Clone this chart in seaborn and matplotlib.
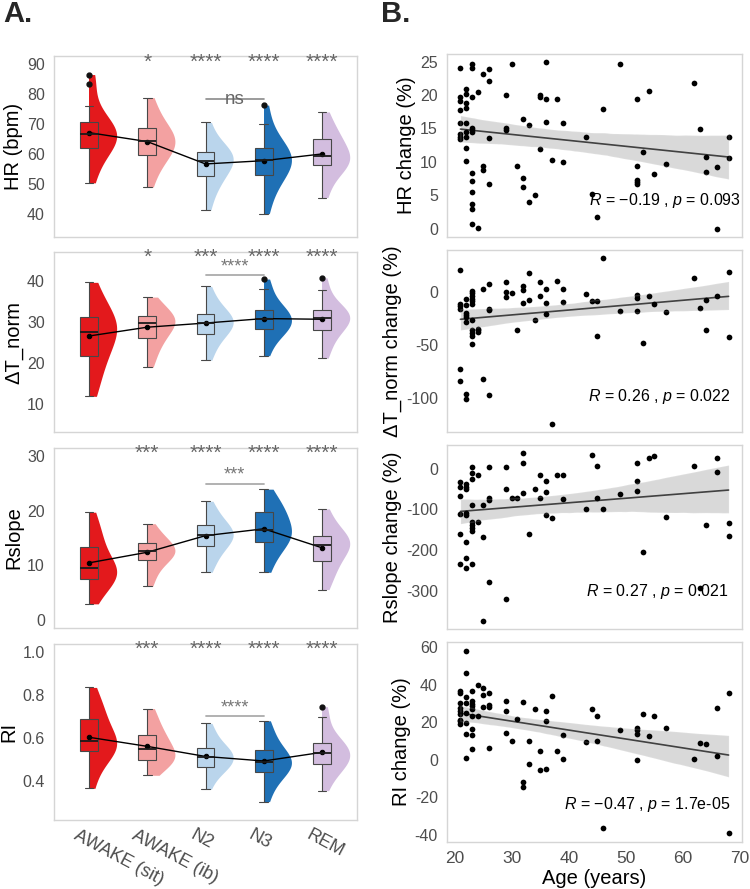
import numpy as np
import pandas as pd
import seaborn as sns
import matplotlib.pyplot as plt
from matplotlib.patches import Rectangle
from matplotlib.transforms import ScaledTranslation

#%% data
stages = ['AWAKE (sit)', 'AWAKE (ib)', 'N2', 'N3', 'REM']
stage_colors = ['#E3191C', '#F3A1A1', '#BAD5EC', '#1F70B5', '#D3BDDF']

hr_vals = {
    'AWAKE (sit)': [50.3, 55.0, 58.5, 61.0, 62.1, 63.5, 64.8, 65.8, 66.5, 67.2, 68.0, 68.8, 70.5, 72.5, 76.0, 83.5, 86.5],
    'AWAKE (ib)': [48.9, 53.5, 56.5, 58.3, 59.5, 61.0, 62.3, 63.4, 64.3, 65.0, 65.8, 66.8, 68.5, 70.0, 72.0, 75.0, 78.8],
    'N2': [41.1, 46.0, 49.0, 51.0, 52.5, 54.0, 55.5, 56.8, 57.5, 58.3, 59.2, 60.0, 60.6, 61.5, 63.0, 66.0, 70.5],
    'N3': [40.0, 45.5, 49.0, 51.5, 52.8, 54.5, 56.0, 57.0, 58.0, 58.8, 59.6, 60.6, 62.0, 63.5, 66.0, 70.0, 76.3],
    'REM': [45.4, 50.0, 53.0, 55.0, 56.1, 56.9, 57.6, 58.4, 59.2, 60.2, 61.5, 63.2, 64.9, 66.0, 67.5, 70.5, 74.0],
}
dt_vals = {
    'AWAKE (sit)': [11.8, 15.0, 18.0, 20.3, 21.7, 23.5, 25.2, 26.6, 27.6, 28.3, 29.0, 30.0, 31.1, 32.5, 34.0, 36.5, 39.6],
    'AWAKE (ib)': [18.9, 21.5, 23.5, 25.0, 26.0, 27.0, 28.0, 29.0, 29.7, 30.0, 30.4, 30.9, 31.4, 32.2, 33.2, 34.5, 36.0],
    'N2': [20.6, 23.0, 25.0, 26.3, 27.1, 28.0, 28.8, 29.4, 29.8, 30.3, 30.8, 31.4, 32.0, 33.0, 34.3, 36.0, 38.6],
    'N3': [21.7, 24.5, 26.5, 27.6, 28.2, 28.6, 29.2, 30.0, 30.6, 31.2, 31.8, 32.3, 32.9, 34.0, 35.5, 38.0, 40.4],
    'REM': [21.1, 23.5, 25.5, 27.2, 28.0, 29.0, 29.8, 30.4, 30.9, 31.3, 31.7, 32.2, 32.8, 33.5, 34.8, 37.7, 40.7],
}
rs_vals = {
    'AWAKE (sit)': [3.0, 5.0, 6.2, 7.0, 7.6, 8.2, 8.7, 9.1, 9.5, 10.0, 10.8, 12.0, 13.4, 14.5, 15.8, 17.5, 19.7],
    'AWAKE (ib)': [6.2, 8.0, 9.3, 10.3, 10.9, 11.5, 11.9, 12.3, 12.6, 12.9, 13.2, 13.6, 14.1, 14.7, 15.4, 16.3, 17.6],
    'N2': [8.75, 10.5, 11.8, 12.8, 13.5, 14.2, 14.8, 15.2, 15.5, 15.9, 16.3, 16.8, 17.3, 18.0, 19.0, 20.2, 21.7],
    'N3': [8.75, 11.0, 12.5, 13.6, 14.3, 14.9, 15.4, 15.9, 16.5, 17.1, 17.8, 18.7, 19.7, 20.2, 21.0, 22.2, 23.9],
    'REM': [5.6, 7.5, 8.8, 10.0, 10.8, 11.8, 12.6, 13.3, 13.8, 14.1, 14.4, 14.8, 15.3, 16.0, 17.0, 18.5, 20.3],
}
ri_vals = {
    'AWAKE (sit)': [0.364, 0.44, 0.49, 0.52, 0.539, 0.55, 0.56, 0.573, 0.587, 0.60, 0.62, 0.65, 0.69, 0.71, 0.74, 0.78, 0.836],
    'AWAKE (ib)': [0.425, 0.46, 0.478, 0.49, 0.498, 0.506, 0.515, 0.53, 0.547, 0.56, 0.575, 0.595, 0.615, 0.635, 0.66, 0.70, 0.737],
    'N2': [0.36, 0.41, 0.44, 0.456, 0.466, 0.478, 0.49, 0.502, 0.512, 0.52, 0.53, 0.542, 0.554, 0.57, 0.595, 0.63, 0.668],
    'N3': [0.302, 0.36, 0.40, 0.425, 0.439, 0.455, 0.468, 0.479, 0.489, 0.498, 0.508, 0.522, 0.543, 0.565, 0.595, 0.635, 0.68],
    'REM': [0.353, 0.41, 0.44, 0.462, 0.476, 0.488, 0.50, 0.515, 0.528, 0.537, 0.546, 0.56, 0.575, 0.595, 0.625, 0.696, 0.746],
}

hr_stars = ['', '*', '****', '****', '****']
dt_stars = ['', '*', '***', '****', '****']
rs_stars = ['', '***', '****', '****', '****']
ri_stars = ['', '***', '****', '****', '****']

# change vs age (B)
hr_age = [21, 21, 21, 21, 21, 21, 21, 21, 22, 22, 22, 22, 22, 22, 22, 22, 22,
          23, 23, 23, 23, 23, 23, 23, 23, 23, 23, 23, 23, 24, 24, 25, 25, 25,
          26, 26, 26, 26, 29, 29, 29, 30, 31, 32, 32, 32, 33, 33, 34, 35, 35, 35,
          36, 36, 36, 37, 38, 39, 39, 43, 44, 45, 46, 49, 52, 52, 52, 52, 52,
          53, 54, 55, 57, 62, 63, 64, 64, 66, 66, 68, 68]
hr_chg = [24, 19.65, 19.15, 17.75, 15.75, 14.1, 13.75, 13.45,
          20.95, 20.15, 18.85, 18, 15.85, 14.5, 13.65, 12.15, 10.15,
          24.7, 24, 19.65, 15, 14.75, 14.5, 8.3, 7.2, 5.45, 3.75, 3, 0.65,
          20.5, 0.1, 23.1, 9.35, 8.85, 23.85, 22.1, 13.6, 6.65, 20, 15, 14.75,
          24.6, 9.45, 16.4, 7.6, 6.25, 15.45, 3.95, 5.1, 20, 19.65, 11.95,
          24.9, 19.4, 15.9, 10.25, 19.4, 15.8, 10, 13.7, 5.15, 1.8, 17.95, 24.7,
          19.45, 9.4, 7.25, 7, 6.65, 11.45, 20.65, 8.25, 9.65, 21.75, 14.85,
          10.75, 8.5, 9.3, 0, 13.65, 10.65]

dt_age = [21, 21, 21, 21, 21, 21, 22, 22, 22, 22, 22, 22, 22, 22,
          23, 23, 23, 23, 23, 23, 23, 23, 23, 23, 23, 24, 24, 24, 25, 25,
          26, 26, 26, 26, 29, 29, 29, 30, 31, 32, 32, 32, 33, 33, 34, 35, 35,
          36, 36, 36, 37, 38, 39, 39, 43, 44, 45, 45, 46, 49, 52, 52, 52,
          53, 54, 55, 57, 62, 63, 64, 64, 66, 68, 68]
dt_chg = [20.6, -11.6, -13.4, -16.3, -72.8, -84, -6.6, -12.2, -19.4, -21.6, -23.4, -28.4, -96, -101,
          1, -1.5, -4, -6.5, -9, -11.5, -26.8, -35.5, -38.6, -41, -49.2, -34.6, -36.2, -38, 2.8, -81.3,
          7.2, -15.9, -17.4, -97.2, 9.7, 0, -4.7, -0.9, -35.8, 5.3, 2.2, -10.6, 17.8, -7.8, -26.5, 9, -3.4,
          2.8, -10.9, -20.9, -123.7, 10, 2.5, -9.3, -2.2, -8.4, -8.4, -41.4, 31.5, -18.1, -2.8, -6.2, -18.4,
          -48, -4, -11.5, -19.3, 13.1, -15, -7.8, -35.5, -3.7, 18.4, -42.4]

rs_age = [21, 21, 21, 21, 21, 21, 22, 22, 22, 22, 22, 22, 22, 22,
          23, 23, 23, 23, 23, 23, 23, 23, 23, 24, 24, 25, 25, 25,
          26, 26, 26, 26, 29, 29, 29, 30, 31, 32, 32, 32, 33, 34, 35, 35,
          36, 36, 36, 37, 38, 39, 39, 43, 44, 45, 45, 46, 49, 52, 52, 52,
          53, 54, 55, 57, 62, 63, 64, 66, 66, 68, 68]
rs_chg = [-33, -44, -68, -111, -159, -233, -37, -44, -50, -108, -113, -179, -219, -244,
          2.5, -11, -25, -89, -132, -139, -145, -152, -233, -16, -130, -90, -167, -372,
          2.5, -73, -76, -277, 2.5, -50, -320, -72, -71, 37, 14, -59, -159, -50, -16, -73,
          -31, -58, -113, -122, -15, -17, -75, -99, 32, 5, -71, -99, -63, 14, -30, -54,
          -203, 26, 30, -118, 6.6, -292, -137, 25, -9, -134, -165]

ri_age = [21, 21, 21, 21, 21, 21, 21, 21, 21, 22, 22, 22, 22, 22, 22, 22, 22,
          23, 23, 23, 23, 23, 23, 23, 23, 23, 24, 24, 25, 25, 25, 26, 26, 26, 26,
          29, 29, 29, 30, 31, 32, 32, 32, 33, 33, 34, 35, 35, 36, 36, 36, 37, 38,
          39, 39, 43, 44, 45, 45, 46, 49, 52, 52, 52, 52, 53, 54, 55, 57, 62, 63,
          64, 66, 66, 68, 68]
ri_chg = [36.5, 35.8, 30.3, 27.5, 26, 24.5, 21.5, 20.5, 19.3,
          58, 46.4, 33.6, 30.5, 25, 19.8, 13.6, 1.1,
          36.6, 31.4, 30, 28.6, 27.1, 23.6, 16.6, 13.4, 5.5, 40.2, 23.2, 38.6, 34.5, 28,
          35.5, 29.5, 28.4, 6.4, 31.4, 25.9, 14.3, 10, 21.6, 30.7, -12, -14.3, 10, -2.1,
          27.1, 4.5, -5.4, 26, 20.9, -4.8, 34.1, 4.5, 13.4, 0.2, 9.3, 27.1, 23.4, 10.2,
          -36.3, 16.1, 17, 15.7, 13.9, 0, 24.3, 12.9, 23.6, 17.1, 0.4, 8.9, 8.2, 27.5, 2,
          35.5, -39]

#%% style
sns.set_style('white')
plt.rcParams['font.family'] = ['Liberation Sans', 'DejaVu Sans']
plt.rcParams['axes.unicode_minus'] = False
plt.rcParams['mathtext.fontset'] = 'custom'
plt.rcParams['mathtext.rm'] = 'Liberation Sans'
plt.rcParams['mathtext.it'] = 'Liberation Sans:italic'

W, H = 750, 889
fig = plt.figure(figsize=(W / 100, H / 100), dpi=100)


def px_axes(x0, y0, x1, y1):
    return fig.add_axes([x0 / W, 1 - y1 / H, (x1 - x0) / W, (y1 - y0) / H])


def frame(ax):
    for s in ax.spines.values():
        s.set_visible(True)
        s.set_color('#D5D5D5')
        s.set_linewidth(1)
    ax.tick_params(axis='both', length=3, width=0.8, color='#9A9A9A',
                   labelcolor='#4D4D4D', labelsize=11.5)


def to_long(vals):
    st, v = [], []
    for s in stages:
        st += [s] * len(vals[s])
        v += vals[s]
    return pd.DataFrame({'stage': st, 'value': v})


#%% A. raincloud panels
left_rows = [(56, 237), (252, 432), (448, 628), (644, 820)]
panels = [
    (hr_vals, 'HR (bpm)', (32.2, 92.7), [40, 50, 60, 70, 80, 90], hr_stars, 90.6, 78.3, 'ns'),
    (dt_vals, '\u0394T_norm', (3.1, 47.0), [10, 20, 30, 40], dt_stars, 45.8, 41.3, '****'),
    (rs_vals, 'Rslope', (-1.4, 31.4), [0, 10, 20, 30], rs_stars, 30.5, 24.9, '***'),
    (ri_vals, 'RI', (0.216, 1.039), [0.4, 0.6, 0.8, 1.0], ri_stars, 1.014, 0.702, '****'),
]

for k, (vals, ylab, ylim, yticks, stars, star_y, pair_y, pair_lab) in enumerate(panels):
    y0, y1 = left_rows[k]
    ax = px_axes(54, y0, 357, y1)
    df = to_long(vals)

    n0 = len(ax.collections)
    sns.violinplot(data=df, x='stage', y='value', hue='stage', order=stages,
                   hue_order=stages, palette=stage_colors, saturation=1, cut=0,
                   inner=None, linewidth=0, width=0.95, dodge=False, legend=False, ax=ax)
    # keep only the right half of each violin
    for i, pc in enumerate(ax.collections[n0:]):
        pc.set_clip_path(Rectangle((i, -1000), 1, 2000, transform=ax.transData))

    sns.boxplot(data=df, x='stage', y='value', hue='stage', order=stages,
                hue_order=stages, palette=stage_colors, saturation=1, width=0.3,
                dodge=False, legend=False, linecolor='#474747', linewidth=0.8,
                medianprops={'color': '#1a1a1a', 'linewidth': 1.3},
                flierprops={'marker': 'o', 'markersize': 3.5,
                            'markerfacecolor': '#111111', 'markeredgecolor': '#111111'},
                ax=ax)
    sns.pointplot(data=df, x='stage', y='value', order=stages, estimator='mean',
                  errorbar=None, color='black', markersize=3.2, linewidth=1.0, ax=ax)

    for i, s in enumerate(stars):
        if s:
            ax.text(i, star_y, s, ha='center', va='center', fontsize=15, color='#666666')
    if pair_lab == 'ns':
        ax.plot([2, 3], [pair_y, pair_y], color='#8A8A8A', lw=1.2)
        ax.text(2.5, pair_y, pair_lab, ha='center', va='center', fontsize=13.5, color='#666666')
    else:
        ax.plot([2, 3], [pair_y, pair_y], color='#ABABAB', lw=1.3)
        ax.text(2.5, pair_y, pair_lab, ha='center', va='bottom', fontsize=13, color='#777777')

    ax.set_xlim(-0.6, 4.6)
    ax.set_ylim(*ylim)
    ax.set_yticks(yticks)
    if k == 3:
        ax.set_yticklabels([f'{t:.1f}' for t in yticks])
    ax.set_ylabel(ylab, fontsize=14.5, color='black', labelpad=3)
    ax.set_xlabel('')
    frame(ax)
    if k < 3:
        ax.set_xticklabels([])
    else:
        ax.set_xticks(range(len(stages)))
        ax.set_xticklabels(stages, rotation=-28, ha='left', va='top',
                           rotation_mode='anchor', fontsize=13)
        ax.tick_params(axis='x', pad=2)
        shift = ScaledTranslation(-10 / 100, 0, fig.dpi_scale_trans)
        for lab in ax.get_xticklabels():
            lab.set_transform(lab.get_transform() + shift)

#%% B. change vs age
right_rows = [(54, 237), (250, 432), (445, 629), (642, 842)]
reg_panels = [
    (hr_age, hr_chg, 'HR change (%)', (-1.25, 26.15), [0, 5, 10, 15, 20, 25],
     '$R$ = \u22120.19 , $p$ = 0.093', 0.995, 0.2),
    (dt_age, dt_chg, '\u0394T_norm change (%)', (-131.5, 39.3), [-100, -50, 0],
     '$R$ = 0.26 , $p$ = 0.022', 0.96, 0.194),
    (rs_age, rs_chg, 'Rslope change (%)', (-392.5, 57.5), [-300, -200, -100, 0],
     '$R$ = 0.27 , $p$ = 0.021', 0.955, 0.204),
    (ri_age, ri_chg, 'RI change (%)', (-43.9, 62.9), [-40, -20, 0, 20, 40, 60],
     '$R$ = \u22120.47 , $p$ = 1.7e-05', 0.96, 0.185),
]

for k, (ages, chg, ylab, ylim, yticks, stat, tx, ty) in enumerate(reg_panels):
    y0, y1 = right_rows[k]
    ax = px_axes(447, y0, 742, y1)
    sns.regplot(x=ages, y=chg, ax=ax, ci=95, seed=3, color='black',
                scatter_kws={'s': 17, 'linewidths': 0, 'alpha': 1},
                line_kws={'color': 'black', 'alpha': 0.7, 'linewidth': 1.2})
    ax.text(tx, ty, stat, transform=ax.transAxes, ha='right', va='center',
            fontsize=11.5, color='black')
    ax.set_xlim(18.65, 70.35)
    ax.set_ylim(*ylim)
    ax.set_yticks(yticks)
    ax.set_ylabel(ylab, fontsize=14.5, color='black', labelpad=3)
    frame(ax)
    ax.set_xticks([20, 30, 40, 50, 60, 70])
    if k < 3:
        ax.set_xticklabels([])
        ax.tick_params(axis='x', length=0)
    else:
        ax.set_xlabel('Age (years)', fontsize=14.5, color='black', labelpad=2)
        ax.tick_params(axis='x', labelsize=12.5)

fig.text(3 / W, 1 - 14 / H, 'A.', fontsize=21, fontweight='bold', va='center', ha='left')
fig.text(381 / W, 1 - 14 / H, 'B.', fontsize=21, fontweight='bold', va='center', ha='left')

fig.savefig('out.png', dpi=100)
